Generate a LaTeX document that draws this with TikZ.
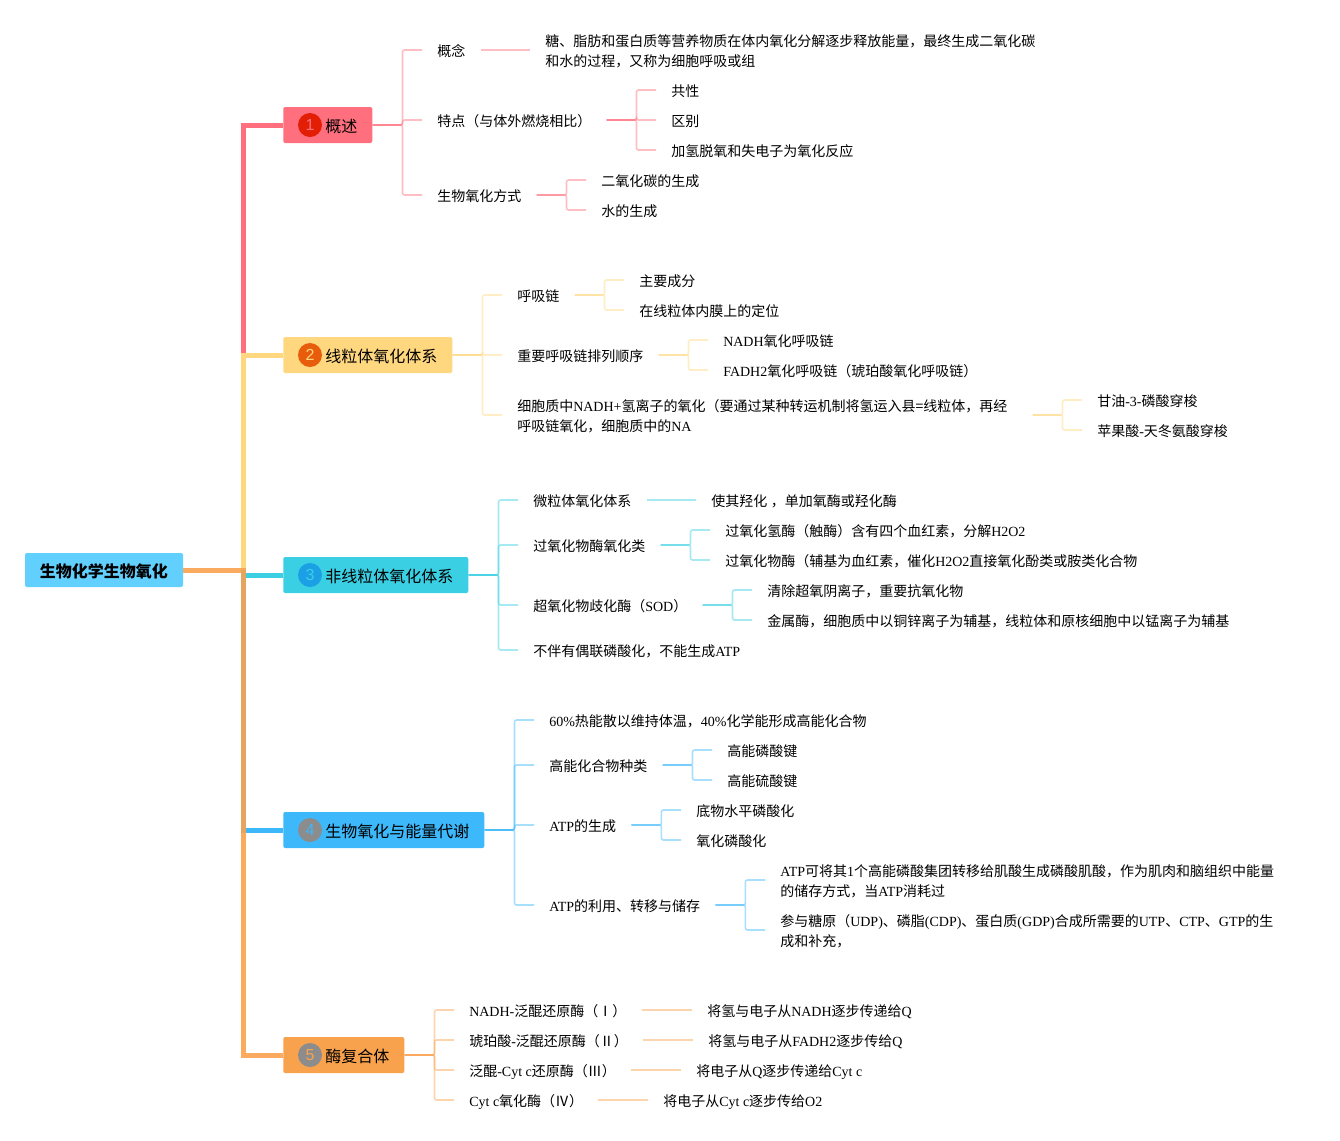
\documentclass[tikz,border=0pt]{standalone}
\usepackage{fontspec}
\setmainfont{Noto Sans CJK SC}
\newfontfamily\latfont{Liberation Serif}
\newfontfamily\numfont{Liberation Sans}
\newcommand{\la}[1]{{\latfont #1}}
\usetikzlibrary{positioning}
\definecolor{rose}{HTML}{FF6F7D}
\definecolor{gold}{HTML}{FFD77F}
\definecolor{aqua}{HTML}{3BCFE3}
\definecolor{sky}{HTML}{3DB8FA}
\definecolor{peach}{HTML}{F9A24E}
\definecolor{rootblue}{HTML}{62D0FF}
\definecolor{greydot}{HTML}{8C8C8C}
\definecolor{reddot}{HTML}{E21E05}
\definecolor{orangedot}{HTML}{E85D0C}
\definecolor{bluedot}{HTML}{1BA0E5}
\tikzset{
    rootnode/.style={rectangle,rounded corners=1.5pt,fill=rootblue,minimum width=118.5pt,minimum height=25.5pt,inner sep=0pt,text height=10.5pt,text depth=0pt,font=\fontsize{12pt}{15pt}\selectfont\bfseries},
    branchnode/.style={rectangle,rounded corners=1.5pt,anchor=west,minimum height=27pt,inner xsep=11.25pt,inner ysep=0pt,text height=10.5pt,text depth=0pt,font=\fontsize{12pt}{15pt}\selectfont,execute at begin node=\hspace*{20.25pt}},
    numcircle/.style={circle,minimum size=18pt,inner sep=0pt,font=\fontsize{12pt}{15pt}\numfont},
    itemnode/.style={anchor=west,inner xsep=11.25pt,inner ysep=0pt,text height=10.4pt,text depth=0pt,font=\fontsize{10.5pt}{15pt}\selectfont},
    itemtwo/.style={anchor=west,inner xsep=11.25pt,inner ysep=0pt,align=left,text width=375pt,font=\fontsize{10.5pt}{15pt}\selectfont,execute at begin node=\rule{0pt}{11.5pt}},
    trunk/.style={line width=3.75pt},
    pil/.style={line width=1.2pt,rounded corners=1.5pt,draw opacity=.45},
}
\begin{document}
\begin{tikzpicture}[x=0.75pt,y=-0.75pt]
    \useasboundingbox (0,0) rectangle (1340,1140);

    % main nodes
    \node[rootnode] (root) at (104,570) {生物化学生物氧化};
    \node[branchnode,fill=rose] (gaishu) at (283,125) {概述};
    \node[branchnode,fill=gold] (xianli) at (283,355) {线粒体氧化体系};
    \node[branchnode,fill=aqua] (feixian) at (283,575) {非线粒体氧化体系};
    \node[branchnode,fill=sky] (nengliang) at (283,830) {生物氧化与能量代谢};
    \node[branchnode,fill=peach] (meifu) at (283,1055) {酶复合体};
    \node[numcircle,fill=reddot,text=rose] (num1) at ([xshift=20.25pt]gaishu.west) {1};
    \node[numcircle,fill=orangedot,text=gold] (num2) at ([xshift=20.25pt]xianli.west) {2};
    \node[numcircle,fill=bluedot,text=aqua] (num3) at ([xshift=20.25pt]feixian.west) {3};
    \node[numcircle,fill=greydot,text=sky] (num4) at ([xshift=20.25pt]nengliang.west) {4};
    \node[numcircle,fill=greydot,text=peach] (num5) at ([xshift=20.25pt]meifu.west) {5};

    % trunk
    \coordinate (fork) at (243,570);
    \draw[trunk,rose] (fork) |- (gaishu.west);
    \draw[trunk,gold] (fork) |- (xianli.west);
    \draw[trunk,aqua] (fork) |- (feixian.west);
    \draw[trunk,sky] (fork) |- (nengliang.west);
    \draw[trunk,peach,draw opacity=.9] (root.east) -- (fork) |- (meifu.west);

    % group 1
    \node[itemnode] (gainian) at (422,50) {概念};
    \node[itemnode] (tedian) at (422,120) {特点（与体外燃烧相比）};
    \node[itemnode] (fangshi) at (422,195) {生物氧化方式};
    \node[itemtwo] (gaitext) at (530,50) {糖、脂肪和蛋白质等营养物质在体内氧化分解逐步释放能量，最终生成二氧化碳\\和水的过程，又称为细胞呼吸或组};
    \node[itemnode] (gongxing) at (656,90) {共性};
    \node[itemnode] (qubie) at (656,120) {区别};
    \node[itemnode] (jiaqing) at (656,150) {加氢脱氧和失电子为氧化反应};
    \node[itemnode] (eryang) at (586,180) {二氧化碳的生成};
    \node[itemnode] (shui) at (586,210) {水的生成};
    \draw[pil,rose] (gaishu.east) -- ++(30,0) |- (gainian.west);
    \draw[pil,rose] (gaishu.east) -- ++(30,0) |- (tedian.west);
    \draw[pil,rose] (gaishu.east) -- ++(30,0) |- (fangshi.west);
    \draw[pil,rose] (gainian.east) -- (gaitext.west);
    \draw[pil,rose] (tedian.east) -- ++(30,0) |- (gongxing.west);
    \draw[pil,rose] (tedian.east) -- ++(30,0) |- (qubie.west);
    \draw[pil,rose] (tedian.east) -- ++(30,0) |- (jiaqing.west);
    \draw[pil,rose] (fangshi.east) -- ++(30,0) |- (eryang.west);
    \draw[pil,rose] (fangshi.east) -- ++(30,0) |- (shui.west);

    % group 2
    \node[itemnode] (huxilian) at (502,295) {呼吸链};
    \node[itemnode] (shunxu) at (502,355) {重要呼吸链排列顺序};
    \node[itemtwo] (xibao) at (502,415) {细胞质中\la{NADH+}氢离子的氧化（要通过某种转运机制将氢运入县=线粒体，再经\\呼吸链氧化，细胞质中的\la{NA}};
    \node[itemnode] (chengfen) at (624,280) {主要成分};
    \node[itemnode] (dingwei) at (624,310) {在线粒体内膜上的定位};
    \node[itemnode] (nadh) at (708,340) {\la{NADH}氧化呼吸链};
    \node[itemnode] (fadh) at (708,370) {\la{FADH2}氧化呼吸链（琥珀酸氧化呼吸链）};
    \node[itemnode] (ganyou) at (1082,400) {甘油\la{-3-}磷酸穿梭};
    \node[itemnode] (pingguo) at (1082,430) {苹果酸\la{-}天冬氨酸穿梭};
    \draw[pil,gold] (xianli.east) -- ++(30,0) |- (huxilian.west);
    \draw[pil,gold] (xianli.east) -- ++(30,0) |- (shunxu.west);
    \draw[pil,gold] (xianli.east) -- ++(30,0) |- (xibao.west);
    \draw[pil,gold] (huxilian.east) -- ++(30,0) |- (chengfen.west);
    \draw[pil,gold] (huxilian.east) -- ++(30,0) |- (dingwei.west);
    \draw[pil,gold] (shunxu.east) -- ++(30,0) |- (nadh.west);
    \draw[pil,gold] (shunxu.east) -- ++(30,0) |- (fadh.west);
    \draw[pil,gold] (xibao.east) -- ++(30,0) |- (ganyou.west);
    \draw[pil,gold] (xibao.east) -- ++(30,0) |- (pingguo.west);

    % group 3
    \node[itemnode] (weili) at (518,500) {微粒体氧化体系};
    \node[itemnode] (guoyang) at (518,545) {过氧化物酶氧化类};
    \node[itemnode] (sod) at (518,605) {超氧化物歧化酶（\la{SOD}）};
    \node[itemnode] (bubanyou) at (518,650) {不伴有偶联磷酸化，不能生成\la{ATP}};
    \node[itemnode] (qianghua) at (696,500) {使其羟化\la{ }，单加氧酶或羟化酶};
    \node[itemnode] (chumei) at (710,530) {过氧化氢酶（触酶）含有四个血红素，分解\la{H2O2}};
    \node[itemnode] (wumei) at (710,560) {过氧化物酶（辅基为血红素，催化\la{H2O2}直接氧化酚类或胺类化合物};
    \node[itemnode] (qingchu) at (752,590) {清除超氧阴离子，重要抗氧化物};
    \node[itemnode] (jinshu) at (752,620) {金属酶，细胞质中以铜锌离子为辅基，线粒体和原核细胞中以锰离子为辅基};
    \draw[pil,aqua] (feixian.east) -- ++(30,0) |- (weili.west);
    \draw[pil,aqua] (feixian.east) -- ++(30,0) |- (guoyang.west);
    \draw[pil,aqua] (feixian.east) -- ++(30,0) |- (sod.west);
    \draw[pil,aqua] (feixian.east) -- ++(30,0) |- (bubanyou.west);
    \draw[pil,aqua] (weili.east) -- (qianghua.west);
    \draw[pil,aqua] (guoyang.east) -- ++(30,0) |- (chumei.west);
    \draw[pil,aqua] (guoyang.east) -- ++(30,0) |- (wumei.west);
    \draw[pil,aqua] (sod.east) -- ++(30,0) |- (qingchu.west);
    \draw[pil,aqua] (sod.east) -- ++(30,0) |- (jinshu.west);

    % group 4
    \node[itemnode] (rere) at (534,720) {\la{60\%}热能散以维持体温，\la{40\%}化学能形成高能化合物};
    \node[itemnode] (zhonglei) at (534,765) {高能化合物种类};
    \node[itemnode] (shengcheng) at (534,825) {\la{ATP}的生成};
    \node[itemnode] (liyong) at (534,905) {\la{ATP}的利用、转移与储存};
    \node[itemnode] (linsuan) at (712,750) {高能磷酸键};
    \node[itemnode] (liusuan) at (712,780) {高能硫酸键};
    \node[itemnode] (diwu) at (681,810) {底物水平磷酸化};
    \node[itemnode] (yanghua) at (681,840) {氧化磷酸化};
    \node[itemtwo] (jisuan) at (765,880) {\la{ATP}可将其\la{1}个高能磷酸集团转移给肌酸生成磷酸肌酸，作为肌肉和脑组织中能量\\的储存方式，当\la{ATP}消耗过};
    \node[itemtwo] (tangyuan) at (765,930) {参与糖原（\la{UDP)}、磷脂\la{(CDP)}、蛋白质\la{(GDP)}合成所需要的\la{UTP}、\la{CTP}、\la{GTP}的生\\成和补充，};
    \draw[pil,sky] (nengliang.east) -- ++(30,0) |- (rere.west);
    \draw[pil,sky] (nengliang.east) -- ++(30,0) |- (zhonglei.west);
    \draw[pil,sky] (nengliang.east) -- ++(30,0) |- (shengcheng.west);
    \draw[pil,sky] (nengliang.east) -- ++(30,0) |- (liyong.west);
    \draw[pil,sky] (zhonglei.east) -- ++(30,0) |- (linsuan.west);
    \draw[pil,sky] (zhonglei.east) -- ++(30,0) |- (liusuan.west);
    \draw[pil,sky] (shengcheng.east) -- ++(30,0) |- (diwu.west);
    \draw[pil,sky] (shengcheng.east) -- ++(30,0) |- (yanghua.west);
    \draw[pil,sky] (liyong.east) -- ++(30,0) |- (jisuan.west);
    \draw[pil,sky] (liyong.east) -- ++(30,0) |- (tangyuan.west);

    % group 5
    \node[itemnode] (mei1) at (454,1010) {\la{NADH-}泛醌还原酶（Ⅰ）};
    \node[itemnode] (mei2) at (454,1040) {琥珀酸\la{-}泛醌还原酶（Ⅱ）};
    \node[itemnode] (mei3) at (454,1070) {泛醌\la{-Cyt c}还原酶（Ⅲ）};
    \node[itemnode] (mei4) at (454,1100) {\la{Cyt c}氧化酶（Ⅳ）};
    \node[itemnode] (chuan1) at (692,1010) {将氢与电子从\la{NADH}逐步传递给\la{Q}};
    \node[itemnode] (chuan2) at (693,1040) {将氢与电子从\la{FADH2}逐步传给\la{Q}};
    \node[itemnode] (chuan3) at (681,1070) {将电子从\la{Q}逐步传递给\la{Cyt c}};
    \node[itemnode] (chuan4) at (648,1100) {将电子从\la{Cyt c}逐步传给\la{O2}};
    \draw[pil,peach] (meifu.east) -- ++(30,0) |- (mei1.west);
    \draw[pil,peach] (meifu.east) -- ++(30,0) |- (mei2.west);
    \draw[pil,peach] (meifu.east) -- ++(30,0) |- (mei3.west);
    \draw[pil,peach] (meifu.east) -- ++(30,0) |- (mei4.west);
    \draw[pil,peach] (mei1.east) -- (chuan1.west);
    \draw[pil,peach] (mei2.east) -- (chuan2.west);
    \draw[pil,peach] (mei3.east) -- (chuan3.west);
    \draw[pil,peach] (mei4.east) -- (chuan4.west);
\end{tikzpicture}
\end{document}
